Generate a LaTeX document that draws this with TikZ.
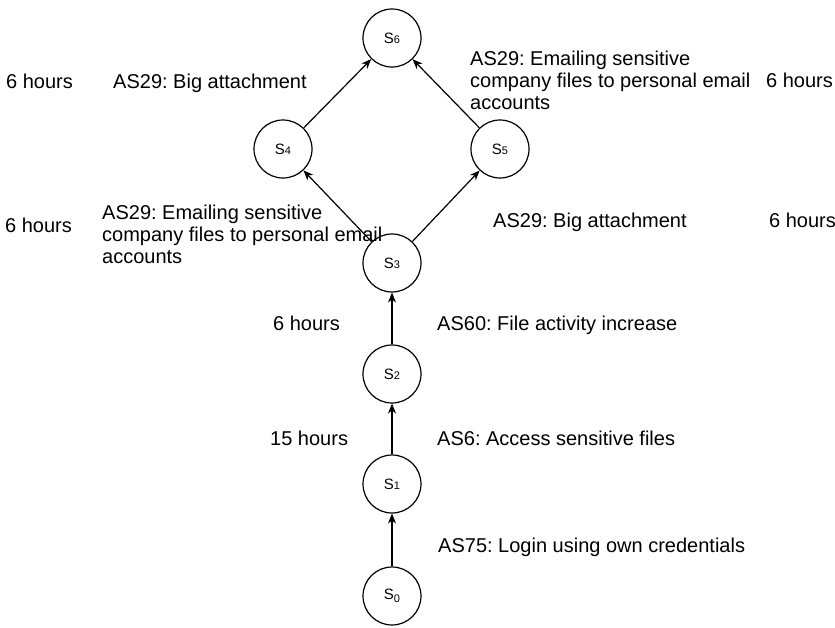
\documentclass[tikz,border=0pt]{standalone}
\usepackage{fontspec}
\setmainfont{Liberation Sans}
\usetikzlibrary{arrows.meta}
\frenchspacing
% state name: capital S with a small index digit
\newcommand{\statename}[2][0pt]{S\raisebox{#1}{\fontsize{11}{11}\selectfont #2}}
\begin{document}
\begin{tikzpicture}[x=1pt,y=-1pt,
  state/.style={circle,draw,line width=1.2pt,minimum size=58pt,inner sep=0pt,
                font=\fontsize{15}{15}\selectfont},
  trans/.style={-{Stealth[length=10pt,width=8pt]},line width=1.2pt},
  lbl/.style={anchor=base west,inner sep=0pt,
              font=\fontsize{20}{22}\selectfont,align=left}]
\useasboundingbox (0,0) rectangle (835,627);

% states
\node[state] (s6) at (392,38)  {\statename{6}};
\node[state] (s4) at (283,149) {\statename{4}};
\node[state] (s5) at (500,149) {\statename{5}};
\node[state] (s3) at (392,263) {\statename{3}};
\node[state] (s2) at (392,374) {\statename{2}};
\node[state] (s1) at (392,484) {\statename{1}};
\node[state] (s0) at (392,596) {\statename[-2.5pt]{0}};

% transitions
\draw[trans] (s0) -- (s1);
\draw[trans] (s1) -- (s2);
\draw[trans] (s2) -- (s3);
\draw[trans] (s3) -- (s4);
\draw[trans] (s3) -- (s5);
\draw[trans] (s4) -- (s6);
\draw[trans] (s5) -- (s6);

% attack steps and durations (multi-line labels sit on their last baseline)
\node[lbl] (t46) at (6,88)   {6 hours};
\node[lbl] (a46) at (113,88) {AS29: Big attachment};
\node[lbl] (a56) at (470,109) {AS29: Emailing sensitive\\company files to personal email\\accounts};
\node[lbl] (t56) at (766,87) {6 hours};

\node[lbl] (t34) at (5,232)   {6 hours};
\node[lbl] (a34) at (102,263) {AS29: Emailing sensitive\\company files to personal email\\accounts};
\node[lbl] (a35) at (493,227) {AS29: Big attachment};
\node[lbl] (t35) at (769,227) {6 hours};

\node[lbl] (t23) at (273,330) {6 hours};
\node[lbl] (a23) at (437,330) {AS60: File activity increase};
\node[lbl] (t12) at (270,445) {15 hours};
\node[lbl] (a12) at (437,445) {AS6: Access sensitive files};
\node[lbl] (a01) at (438,552) {AS75: Login using own credentials};
\end{tikzpicture}
\end{document}
